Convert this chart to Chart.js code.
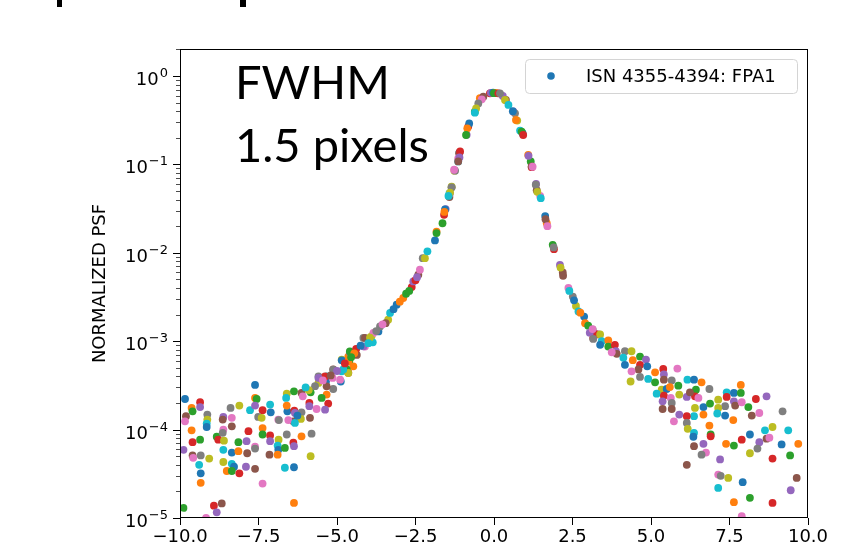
<!DOCTYPE html>
<html>
<head>
<meta charset="utf-8">
<script src="https://cdn.jsdelivr.net/npm/chart.js@4.4.0/dist/chart.umd.min.js"></script>
<style>
  html, body { margin: 0; padding: 0; background: #fff; }
</style>
</head>
<body>
<canvas id="graficoPsf" width="856" height="550"></canvas>
<script>
const serieLabel = 'ISN 4355-4394: FPA1';
const yTitle = 'NORMALIZED PSF';
const noteLines = ['FWHM', '1.5 pixels'];
const xTicks = [-10, -7.5, -5, -2.5, 0, 2.5, 5, 7.5, 10];
const yTickExponents = [0, -1, -2, -3, -4, -5];

// left wing (noisy)
const leftWingX = [
    -9.84, -9.63, -9.60, -9.36, -9.36, -9.81, -9.84, -9.13, -9.13, -9.15,
    -9.15, -9.63, -9.36, -9.60, -9.89, -9.60, -9.58, -9.34, -9.07, -9.39,
    -9.34, -9.34, -8.83, -8.78, -8.62, -8.64, -8.35, -8.39, -8.11, -7.77,
    -7.61, -7.61, -7.56, -7.37, -7.61, -8.35, -8.62, -8.64, -8.60, -8.62,
    -8.35, -8.14, -8.14, -7.82, -7.88, -7.86, -7.61, -7.61, -8.62, -8.35,
    -8.28, -8.51, -8.35, -8.11, -7.90, -7.61, -7.37, -7.51, -7.40, -7.13,
    -7.11, -7.37, -7.37, -7.13, -7.13, -7.15, -6.87, -6.85, -6.60, -6.62,
    -6.58, -6.60, -6.37, -6.36, -6.34, -6.39, -6.55, -6.60, -6.86, -6.89,
    -6.87, -6.89, -6.66, -6.39, -6.37, -6.13, -6.09, -6.13, -6.15, -6.34,
    -6.26, -6.13, -5.84, -5.88, -5.88, -5.86, -5.65, -5.81, -5.84, -6.66,
    -6.37, -6.37, -9.89, -8.92, -8.83, -8.67, -9.17, -5.59, -5.59, -5.33,
    -5.35, -5.33, -5.49, -5.28, -5.38, -5.12, -5.14, -5.12, -4.85, -4.85,
    -4.88, -4.64, -4.61, -4.64, -4.59, -4.37, -4.11, -4.16, -3.90, -3.86,
    -3.68, -4.48, -4.69
];
const leftWingY = [
    2.22e-4, 1.76e-4, 1.61e-4, 2.04e-4, 1.80e-4, 1.42e-4, 1.24e-4, 1.48e-4, 1.30e-4, 1.17e-4,
    1.07e-4, 9.8e-5, 7.7e-5, 7.2e-5, 5.9e-5, 5.1e-5, 4.8e-5, 5.1e-5, 4.7e-5, 4.0e-5,
    3.2e-5, 2.5e-5, 8.3e-5, 7.7e-5, 1.39e-4, 1.30e-4, 1.36e-4, 1.76e-4, 1.87e-4, 1.66e-4,
    3.2e-4, 2.28e-4, 2.22e-4, 1.66e-4, 1.87e-4, 1.09e-4, 1.0e-4, 9.2e-5, 7.5e-5, 5.9e-5,
    5.5e-5, 5.7e-5, 7.2e-5, 9.6e-5, 7.4e-5, 5.4e-5, 6.4e-5, 6.1e-5, 4.3e-5, 4.1e-5,
    3.8e-5, 3.4e-5, 3.4e-5, 3.2e-5, 3.8e-5, 3.6e-5, 2.45e-5, 1.39e-4, 1.36e-4, 1.92e-4,
    1.57e-4, 1.04e-4, 8.8e-5, 8.6e-5, 7.4e-5, 5.2e-5, 1.30e-4, 1.28e-4, 2.55e-4, 2.28e-4,
    1.61e-4, 1.87e-4, 2.71e-4, 1.64e-4, 1.54e-4, 1.24e-4, 1.28e-4, 8.8e-5, 7.7e-5, 6.6e-5,
    5.9e-5, 5.2e-5, 6.2e-5, 7.1e-5, 6.5e-5, 2.6e-4, 2.38e-4, 1.57e-4, 1.32e-4, 1.19e-4,
    1.44e-4, 8.4e-5, 2.64e-4, 2.0e-4, 1.84e-4, 1.36e-4, 1.71e-4, 9.0e-5, 5.0e-5, 3.7e-5,
    3.75e-5, 1.48e-5, 1.30e-5, 1.38e-5, 1.16e-5, 1.46e-5, 1.0e-5, 4.0e-4, 3.37e-4, 4.0e-4,
    3.5e-4, 2.49e-4, 2.28e-4, 1.97e-4, 1.68e-4, 4.8e-4, 3.84e-4, 2.88e-4, 6.2e-4, 4.56e-4,
    3.5e-4, 6.7e-4, 5.9e-4, 4.4e-4, 7.5e-4, 7.0e-4, 8.7e-4, 1.09e-3, 1.14e-3, 9.7e-4,
    1.29e-3, 5.2e-4, 4.8e-4
];

// core of the PSF
const coreX = [
    -5.38, -5.59, -5.33, -4.90, -5.12, -4.64, -4.80, -4.85, -4.64, -4.59,
    -4.39, -4.16, -4.11, -3.84, -3.63, -3.37, -3.31, -3.10, -2.89, -2.80,
    -2.62, -2.57, -2.41, -2.36, -2.27, -2.20, -2.12, -1.88, -1.83, -1.64,
    -1.59, -1.54, -1.42, -1.40, -1.35, -1.26, -1.14, -1.10, -0.45, -0.61,
    -0.82, -0.87, -1.11, -1.14, -1.24, -1.35, -1.42, -1.56, -1.58, -1.83,
    -0.13, -0.10, -0.34, -0.39, -0.50, -0.57, -0.61, -0.79, -0.85, -0.89,
    -1.08, -1.10, -1.14, -1.27, -1.35, -1.40, -1.45, -3.20, -3.00, -2.70,
    -2.50, -2.45, -3.45, -3.55, -3.75, -3.95, -4.00, -4.25, -4.45, -4.55,
    -4.75, -5.00, -5.20, -5.45, -5.70, -5.90, -6.00, -0.03, 0.05, 0.00,
    0.14, 0.28, 0.38, 0.62, 0.67, 0.74, 0.83, 0.91, 1.09, 1.17,
    1.20, 1.34, 1.36, 1.47, 0.19, 0.35, 0.46, 0.60, 0.70, 0.88,
    0.93, 1.10, 1.20, 1.23, 1.33, 1.38, 1.49, 1.63, 1.68, 1.87,
    1.91, 2.10, 2.19, 2.37, 2.51, 2.61, 2.69, 2.87, 2.90, 3.14,
    3.16, 3.33, 1.64, 1.70, 1.90, 2.12, 2.40, 2.55, 2.75, 3.00,
    3.25, 3.05, 2.20
];
const coreY = [
    4.0e-4, 3.84e-4, 3.09e-4, 3.67e-4, 4.76e-4, 4.37e-4, 4.79e-4, 6.08e-4, 5.92e-4, 7.67e-4,
    8.17e-4, 8.75e-4, 1.09e-3, 1.24e-3, 1.47e-3, 1.75e-3, 2.09e-3, 2.59e-3, 3.08e-3, 3.44e-3,
    4.09e-3, 4.75e-3, 5.65e-3, 6.43e-3, 8.7e-3, 8.7e-3, 1.04e-2, 1.38e-2, 1.74e-2, 2.16e-2,
    2.69e-2, 3.12e-2, 4.27e-2, 4.72e-2, 5.52e-2, 8.5e-2, 0.108, 0.136, 0.56, 0.395,
    0.268, 0.216, 0.134, 0.117, 0.085, 0.056, 0.047, 0.031, 0.029, 0.0167,
    0.637, 0.645, 0.583, 0.545, 0.49, 0.43, 0.385, 0.29, 0.256, 0.215,
    0.14, 0.12, 0.108, 0.087, 0.055, 0.048, 0.044, 2.3e-3, 2.8e-3, 3.7e-3,
    4.9e-3, 5.3e-3, 1.6e-3, 1.55e-3, 1.3e-3, 1.1e-3, 9.5e-4, 8.9e-4, 7.3e-4, 6.6e-4,
    5.6e-4, 4.6e-4, 4.1e-4, 3.6e-4, 3.1e-4, 2.8e-4, 3.0e-4, 0.65, 0.645, 0.64,
    0.637, 0.594, 0.535, 0.395, 0.378, 0.313, 0.241, 0.225, 0.128, 0.108,
    0.093, 0.060, 0.051, 0.044, 0.637, 0.536, 0.471, 0.40, 0.318, 0.235,
    0.215, 0.125, 0.095, 0.094, 0.059, 0.049, 0.0415, 0.026, 0.0216, 0.0123,
    0.011, 0.0073, 0.006, 0.004, 0.0032, 0.0025, 0.00217, 0.0019, 0.0016, 0.00135,
    0.00109, 0.00119, 0.024, 0.020, 0.0115, 0.0068, 0.0037, 0.0029, 0.0021, 0.0015,
    0.0012, 0.00125, 0.0055
];

// right wing (noisy)
const rightWingX = [
    3.14, 3.16, 3.38, 3.43, 3.38, 3.64, 3.64, 3.85, 3.88, 3.91,
    3.75, 4.17, 4.38, 4.12, 4.17, 4.42, 4.65, 4.65, 4.84, 4.60,
    4.38, 4.65, 4.35, 4.91, 4.88, 5.13, 5.13, 5.39, 5.41, 5.41,
    5.84, 5.66, 5.34, 5.18, 5.50, 5.60, 5.87, 5.41, 5.37, 5.37,
    5.63, 5.66, 5.90, 6.16, 6.37, 6.61, 6.43, 6.40, 6.14, 6.24,
    6.51, 6.86, 6.40, 6.37, 6.67, 6.67, 6.88, 6.14, 5.90, 5.66,
    5.73, 6.14, 6.17, 6.37, 6.35, 6.86, 6.90, 6.90, 6.67, 6.37,
    6.75, 6.61, 7.14, 7.41, 7.64, 7.86, 7.86, 7.41, 7.64, 7.68,
    7.89, 7.36, 7.14, 7.11, 7.36, 7.62, 8.10, 8.34, 8.68, 8.21,
    8.45, 9.19, 8.87, 8.63, 8.15, 7.39, 7.64, 7.89, 8.45, 8.68,
    8.77, 8.39, 8.15, 9.37, 9.16, 9.69, 9.43, 8.87, 7.20, 6.14,
    7.14, 7.22, 7.46, 7.14, 7.92, 7.64, 8.15, 8.87, 9.45, 9.64,
    7.89
];
const rightWingY = [
    1.37e-3, 1.06e-3, 1.19e-3, 1.0e-3, 9.1e-4, 1.02e-3, 8.7e-4, 9.1e-4, 7.7e-4, 7.2e-4,
    7.5e-4, 7.7e-4, 7.7e-4, 6.5e-4, 5.4e-4, 6.1e-4, 6.7e-4, 5.4e-4, 6.2e-4, 4.8e-4,
    4.56e-4, 3.94e-4, 3.5e-4, 3.74e-4, 5.2e-4, 4.44e-4, 3.43e-4, 4.85e-4, 4.2e-4, 3.67e-4,
    4.9e-4, 3.6e-4, 2.83e-4, 2.55e-4, 2.88e-4, 3.03e-4, 3.14e-4, 2.42e-4, 2.09e-4, 1.71e-4,
    2.28e-4, 2.0e-4, 2.49e-4, 3.67e-4, 3.67e-4, 3.43e-4, 2.83e-4, 2.38e-4, 2.34e-4, 2.64e-4,
    2.28e-4, 2.88e-4, 1.76e-4, 1.42e-4, 1.80e-4, 1.48e-4, 1.97e-4, 1.42e-4, 1.48e-4, 1.71e-4,
    1.24e-4, 1.19e-4, 1.02e-4, 9.2e-5, 8.3e-5, 1.11e-4, 8.8e-5, 8.4e-5, 6.9e-5, 6.5e-5,
    5.5e-5, 5.2e-5, 2.18e-4, 2.64e-4, 2.6e-4, 3.2e-4, 2.6e-4, 2.34e-4, 2.09e-4, 1.87e-4,
    2.04e-4, 1.84e-4, 1.76e-4, 1.52e-4, 1.44e-4, 1.28e-4, 1.80e-4, 2.22e-4, 2.38e-4, 1.44e-4,
    1.54e-4, 1.61e-4, 1.07e-4, 9.8e-5, 8.8e-5, 6.9e-5, 6.6e-5, 7.7e-5, 7.2e-5, 7.9e-5,
    8.1e-5, 6.1e-5, 5.4e-5, 9.8e-5, 6.8e-5, 6.9e-5, 5.1e-5, 4.7e-5, 4.6e-5, 4.0e-5,
    3.1e-5, 3.0e-5, 2.84e-5, 2.19e-5, 2.54e-5, 1.51e-5, 1.69e-5, 1.48e-5, 2.06e-5, 2.84e-5,
    1.05e-5
];

const tab10 = ['#1f77b4', '#ff7f0e', '#2ca02c', '#d62728', '#9467bd',
               '#8c564b', '#e377c2', '#7f7f7f', '#bcbd22', '#17becf'];

const allX = leftWingX.concat(coreX, rightWingX);
const allY = leftWingY.concat(coreY, rightWingY);
const pontos = allX.map((x, i) => ({ x: x, y: allY[i] }));

const fmtMinus = v => (v < 0 ? '\u2212' : '') + Math.abs(v).toFixed(1);

// frame, log ticks with superscripts, annotation text, legend box
const decor = {
    id: 'decor',
    afterDraw(chart) {
        const c = chart.ctx;
        const a = chart.chartArea;
        const ys = chart.scales.y;
        c.save();

        // slide title fragments cut at top edge
        c.fillStyle = '#000';
        c.fillRect(57, 0, 5, 7);
        c.fillRect(240, 0, 6, 7);

        // frame
        c.strokeStyle = '#000';
        c.lineWidth = 1;
        c.strokeRect(a.left + 0.5, a.top + 0.5, a.right - a.left - 1, a.bottom - a.top - 1);

        // y ticks (major + minor)
        for (let e = -5; e <= 0; e++) {
            for (let m = 1; m <= 9; m++) {
                const v = m * Math.pow(10, e);
                if (v > ys.max) break;
                const py = Math.round(ys.getPixelForValue(v)) + 0.5;
                c.beginPath();
                c.lineWidth = m === 1 ? 1 : 0.7;
                c.moveTo(a.left - (m === 1 ? 7 : 4), py);
                c.lineTo(a.left, py);
                c.stroke();
            }
        }

        // y tick labels 10^n
        c.fillStyle = '#000';
        c.textBaseline = 'alphabetic';
        yTickExponents.forEach(e => {
            const py = ys.getPixelForValue(Math.pow(10, e));
            const sup = (e < 0 ? '\u2212' : '') + Math.abs(e);
            c.font = '13px "DejaVu Sans"';
            c.textAlign = 'right';
            const supW = c.measureText(sup).width;
            const right = a.left - 12;
            c.fillText(sup, right, py + 1);
            c.font = '18px "DejaVu Sans"';
            c.fillText('10', right - supW - 1, py + 9);
        });

        // y axis title
        c.save();
        c.translate(100, (a.top + a.bottom) / 2);
        c.rotate(-Math.PI / 2);
        c.font = '18px "DejaVu Sans"';
        c.textAlign = 'center';
        c.textBaseline = 'middle';
        c.fillText(yTitle, 0, 0);
        c.restore();

        // FWHM note
        c.font = '47px Lato';
        c.textAlign = 'left';
        c.textBaseline = 'alphabetic';
        c.fillText(noteLines[0], 235, 99);
        c.fillText(noteLines[1], 235, 162);

        // legend
        c.beginPath();
        c.roundRect(525.5, 59.5, 272, 34, 4);
        c.fillStyle = 'rgba(255,255,255,0.8)';
        c.fill();
        c.strokeStyle = '#d4d4d4';
        c.lineWidth = 1;
        c.stroke();
        c.beginPath();
        c.arc(551, 76, 3.8, 0, Math.PI * 2);
        c.fillStyle = tab10[0];
        c.fill();
        c.fillStyle = '#000';
        c.font = '18px "DejaVu Sans"';
        c.textBaseline = 'middle';
        c.fillText(chart.data.datasets[0].label, 586, 77);

        c.restore();
    }
};

const ctx = document.getElementById('graficoPsf');

new Chart(ctx, {
    type: 'scatter',

    data: {
        datasets: [{
            label: serieLabel,
            data: pontos,
            pointRadius: 3.9,
            pointHoverRadius: 3.9,
            pointBorderWidth: 0,
            pointBackgroundColor: c => tab10[c.dataIndex % tab10.length]
        }]
    },

    options: {
        responsive: false,
        animation: false,
        layout: {
            padding: { top: 49, right: 48, left: 0, bottom: 0 }
        },
        plugins: {
            legend: { display: false },
            tooltip: { enabled: false }
        },
        scales: {
            x: {
                type: 'linear',
                min: -10,
                max: 10,
                afterBuildTicks: s => { s.ticks = xTicks.map(v => ({ value: v })); },
                afterFit: s => { s.height = 32; },
                border: { display: false },
                grid: {
                    drawOnChartArea: false,
                    tickLength: 7,
                    tickColor: '#000',
                    tickWidth: 1
                },
                ticks: {
                    autoSkip: false,
                    maxRotation: 0,
                    padding: 2,
                    color: '#000',
                    font: { family: 'DejaVu Sans', size: 18 },
                    callback: v => fmtMinus(v)
                }
            },
            y: {
                type: 'logarithmic',
                min: 1e-5,
                max: 2.02,
                afterFit: s => { s.width = 180; },
                border: { display: false },
                grid: { display: false },
                ticks: { display: false }
            }
        }
    },

    plugins: [decor]
});
</script>
</body>
</html>
